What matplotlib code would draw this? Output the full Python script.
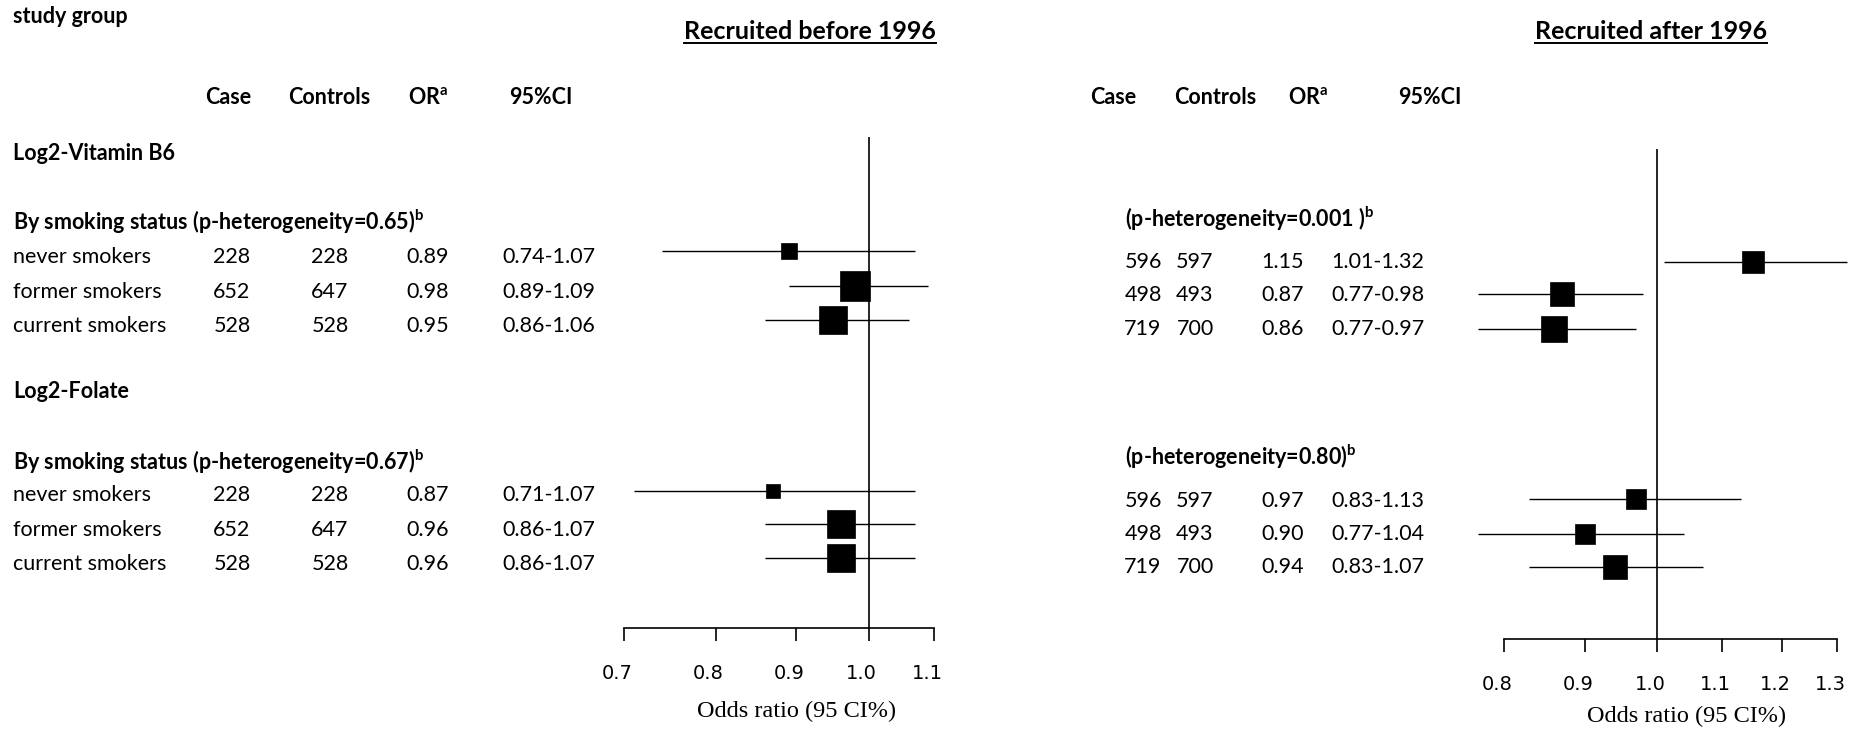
import matplotlib
matplotlib.use("Agg")
import matplotlib.pyplot as plt
import numpy as np
from matplotlib.transforms import ScaledTranslation

plt.rcParams['font.family'] = ['Lato', 'DejaVu Sans']
plt.rcParams['mathtext.fontset'] = 'custom'
plt.rcParams['mathtext.rm'] = 'Lato'
plt.rcParams['mathtext.bf'] = 'Lato:bold'

# ---- data -------------------------------------------------------------
groups = ["never smokers", "former smokers", "current smokers"]

# recruited before 1996
early_b6_case = [228, 652, 528]
early_b6_ctrl = [228, 647, 528]
early_b6_or = [0.89, 0.98, 0.95]
early_b6_lo = [0.74, 0.89, 0.86]
early_b6_hi = [1.07, 1.09, 1.06]

early_fol_case = [228, 652, 528]
early_fol_ctrl = [228, 647, 528]
early_fol_or = [0.87, 0.96, 0.96]
early_fol_lo = [0.71, 0.86, 0.86]
early_fol_hi = [1.07, 1.07, 1.07]

# recruited after 1996
late_b6_case = [596, 498, 719]
late_b6_ctrl = [597, 493, 700]
late_b6_or = [1.15, 0.87, 0.86]
late_b6_lo = [1.01, 0.77, 0.77]
late_b6_hi = [1.32, 0.98, 0.97]

late_fol_case = [596, 498, 719]
late_fol_ctrl = [597, 493, 700]
late_fol_or = [0.97, 0.90, 0.94]
late_fol_lo = [0.83, 0.77, 0.83]
late_fol_hi = [1.13, 1.04, 1.07]

p_het_early = ["0.65", "0.67"]
p_het_late = ["0.001 ", "0.80"]

ticks_early = [0.7, 0.8, 0.9, 1.0, 1.1]
ticks_late = [0.8, 0.9, 1.0, 1.1, 1.2, 1.3]

# ---- page layout (pixels from top-left) -------------------------------
W, H = 1852, 732
fig = plt.figure(figsize=(W / 100, H / 100), dpi=100)
page = fig.add_axes([0, 0, 1, 1])
page.set_xlim(0, W)
page.set_ylim(H, 0)
page.axis("off")

FS = 15.5
BOX_K = 5.95   # box side (px) per 1/log(CI width)


def px_axes(left, right, top, bottom):
    ax = fig.add_axes([left / W, 1 - bottom / H, (right - left) / W, (bottom - top) / H])
    ax.set_ylim(bottom, top)
    ax.patch.set_alpha(0)
    return ax


def forest(ax, ors, los, his, rows, xlim, ticks):
    ax.set_xscale("log")
    ax.set_xlim(*xlim)
    ax.axvline(1.0, color="black", lw=1.2)
    for o, lo, hi, y in zip(ors, los, his, rows):
        ax.hlines(y, lo, hi, color="black", lw=1.0, clip_on=False)
        side = BOX_K / np.log(hi / lo)
        ax.plot([o], [y], marker="s", ms=side * 0.72, color="black",
                mec="black", mew=0.5, clip_on=False)
    for s in ["top", "left", "right"]:
        ax.spines[s].set_visible(False)
    ax.spines["bottom"].set_linewidth(1.2)
    ax.set_yticks([])
    ax.set_xticks(ticks)
    ax.xaxis.set_minor_locator(matplotlib.ticker.NullLocator())
    ax.set_xticklabels([f"{t:.1f}" for t in ticks], family="DejaVu Sans", fontsize=14)
    ax.tick_params(axis="x", direction="out", length=9.5, width=1.2, pad=16.5)
    shift = ScaledTranslation(-7 / 100, 0, fig.dpi_scale_trans)
    for lab in ax.get_xticklabels():
        lab.set_transform(lab.get_transform() + shift)


# left forest plot
ax1 = px_axes(624, 934, 137, 628)
forest(ax1, early_b6_or + early_fol_or, early_b6_lo + early_fol_lo,
       early_b6_hi + early_fol_hi, [251, 286, 320, 491, 524, 558],
       (0.7, 1.1), ticks_early)

# right forest plot
ax2 = px_axes(1504, 1837, 149, 639)
forest(ax2, late_b6_or + late_fol_or, late_b6_lo + late_fol_lo,
       late_b6_hi + late_fol_hi, [262, 294, 329, 499, 534, 567],
       (0.8, 1.3), ticks_late)

page.text(797, 711, "Odds ratio (95 CI%)", family="Liberation Serif",
          fontsize=17.5, ha="center", va="center")
page.text(1687, 716, "Odds ratio (95 CI%)", family="Liberation Serif",
          fontsize=17.5, ha="center", va="center")

# ---- text table -------------------------------------------------------
bold = dict(fontsize=FS, fontweight="bold", va="baseline")
reg = dict(fontsize=FS, va="baseline")

page.text(13, 23, "study group", **bold)

titles = [page.text(810, 39, "Recruited before 1996", ha="center", fontsize=18,
                    fontweight="bold", va="baseline"),
          page.text(1651, 39, "Recruited after 1996", ha="center", fontsize=18,
                    fontweight="bold", va="baseline")]

# column headers
for x, lab in zip([228, 329, 428, 541], ["Case", "Controls", r"OR$^\mathbf{a}$", "95%CI"]):
    page.text(x, 104, lab, ha="center", **bold)
for x, lab in zip([1113, 1215, 1308, 1430], ["Case", "Controls", r"OR$^\mathbf{a}$", "95%CI"]):
    page.text(x, 104, lab, ha="center", **bold)

page.text(13, 160, "Log2-Vitamin B6", **bold)
page.text(13, 398, "Log2-Folate", **bold)
for y, p in zip([230, 470], p_het_early):
    page.text(13, y, "By smoking status (p-heterogeneity=" + p + r")$^\mathbf{b}$", **bold)
for y, p in zip([227, 465], p_het_late):
    page.text(1125, y, "(p-heterogeneity=" + p + r")$^\mathbf{b}$", **bold)

early_rows = [263, 298, 332, 501, 536, 570]
late_rows = [268, 301, 335, 507, 540, 573]

early_case = early_b6_case + early_fol_case
early_ctrl = early_b6_ctrl + early_fol_ctrl
early_or = early_b6_or + early_fol_or
early_lo = early_b6_lo + early_fol_lo
early_hi = early_b6_hi + early_fol_hi
for i, y in enumerate(early_rows):
    page.text(13, y, groups[i % 3], **reg)
    page.text(232, y, str(early_case[i]), ha="center", **reg)
    page.text(330, y, str(early_ctrl[i]), ha="center", **reg)
    page.text(428, y, f"{early_or[i]:.2f}", ha="center", **reg)
    page.text(549, y, f"{early_lo[i]:.2f}-{early_hi[i]:.2f}", ha="center", **reg)

late_case = late_b6_case + late_fol_case
late_ctrl = late_b6_ctrl + late_fol_ctrl
late_or = late_b6_or + late_fol_or
late_lo = late_b6_lo + late_fol_lo
late_hi = late_b6_hi + late_fol_hi
for i, y in enumerate(late_rows):
    page.text(1143, y, str(late_case[i]), ha="center", **reg)
    page.text(1195, y, str(late_ctrl[i]), ha="center", **reg)
    page.text(1283, y, f"{late_or[i]:.2f}", ha="center", **reg)
    page.text(1378, y, f"{late_lo[i]:.2f}-{late_hi[i]:.2f}", ha="center", **reg)

# underline the two panel titles
fig.canvas.draw()
renderer = fig.canvas.get_renderer()
for t in titles:
    bb = t.get_window_extent(renderer)
    yb = t.get_position()[1] + 3.5
    page.plot([bb.x0, bb.x1], [yb, yb], color="black", lw=1.4)

fig.savefig("out.png", dpi=100, facecolor="white")
